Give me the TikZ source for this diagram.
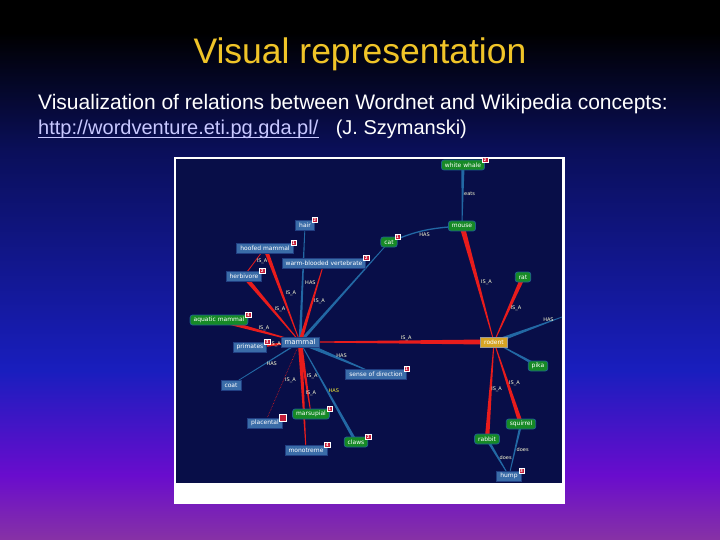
\documentclass[tikz,border=0pt]{standalone}
\usepackage{fontspec}
\setmainfont{Liberation Sans}
\newfontfamily\graphfont{DejaVu Sans}
\usepackage{xcolor}
\definecolor{slidenavy}{RGB}{10,15,90}
\definecolor{slideblue}{RGB}{25,30,190}
\definecolor{slidepurple}{RGB}{105,12,205}
\definecolor{slidebot}{RGB}{135,50,165}
\definecolor{titlegold}{RGB}{240,196,40}
\definecolor{linklav}{RGB}{200,200,255}
\definecolor{canvasnavy}{RGB}{8,14,72}
\definecolor{wnblue}{RGB}{58,108,168}
\definecolor{wnedge}{RGB}{32,62,130}
\definecolor{wikigreen}{RGB}{22,138,38}
\definecolor{wikiedge}{RGB}{30,96,140}
\definecolor{focusgold}{RGB}{214,164,36}
\definecolor{relred}{RGB}{232,28,28}
\definecolor{relblue}{RGB}{34,104,164}
\definecolor{badgered}{RGB}{196,28,56}
\definecolor{relcream}{RGB}{255,255,215}
\usepackage{tikz}
\usetikzlibrary{calc,backgrounds}
\pgfdeclareverticalshading{slidefade}{100bp}{color(0bp)=(slidebot); color(25bp)=(slidebot);
  color(31bp)=(slidepurple); color(40.7bp)=(slideblue); color(61bp)=(slidenavy);
  color(72bp)=(black); color(100bp)=(black)}
\tikzset{
  concept/.style={
    rectangle, inner xsep=3.5pt, inner ysep=1pt, minimum height=10pt,
    text=white, line width=0.8pt, font=\graphfont\fontsize{6}{6}\selectfont
  },
  wnbox/.style={concept, fill=wnblue, draw=wnedge},
  wikibox/.style={concept, fill=wikigreen, draw=wikiedge, rounded corners=2.5pt},
  focusbox/.style={concept, fill=focusgold, draw=gray!80},
  badge/.style={
    rectangle, fill=badgered, draw=white, line width=0.3pt,
    minimum size=5.5pt, inner sep=0pt, text=white,
    font=\graphfont\bfseries\fontsize{4}{4}\selectfont
  },
  rel/.style={text=relcream, inner sep=0.5pt, font=\graphfont\fontsize{5}{5}\selectfont},
  slidetext/.style={anchor=base west, inner sep=0pt, font=\fontsize{21}{25}\selectfont},
}
% wedge-shaped connector: colour, from, to, half width at the from end
\newcommand{\wedgelink}[4]{%
  \fill[#1] ($(#2)!#4!90:(#3)$) -- ($(#3)!0.35pt!-90:(#2)$)
    -- ($(#3)!0.35pt!90:(#2)$) -- ($(#2)!#4!-90:(#3)$) -- cycle;}

\begin{document}
\begin{tikzpicture}[x=1pt, y=-1pt]
  \useasboundingbox (0,0) rectangle (720,540);

  \begin{scope}[on background layer]
    \shade[shading=slidefade] (0,0) rectangle (720,540);
    \fill[white] (174,157) rectangle (565,504);
    \fill[canvasnavy] (176,159) rectangle (562,483);
  \end{scope}

  \node[font=\fontsize{35.5}{40}\selectfont, text=titlegold, anchor=base] (title) at (360,64) {Visual representation};
  \node[slidetext, text=white] (subtitle) at (38,110) {Visualization of relations between Wordnet and Wikipedia concepts:};
  \node[slidetext, text=linklav, font=\fontsize{20}{25}\selectfont] (link) at (38,135) {http://wordventure.eti.pg.gda.pl/};
  \draw[linklav, line width=0.9pt] ([yshift=-2.5pt]link.base west) -- ([yshift=-2.5pt]link.base east);
  \node[slidetext, text=white, font=\fontsize{20}{25}\selectfont] (author) at ([xshift=17pt]link.base east) {(J. Szymanski)};

  % concepts
  \node[wikibox] (whale) at (463,165) {white whale};
  \node[wikibox] (mouse) at (462,226) {mouse};
  \node[wikibox] (cat) at (389,242) {cat};
  \node[wnbox] (hair) at (305,225) {hair};
  \node[wnbox] (hoofed) at (265,248) {hoofed mammal};
  \node[wnbox] (warmblooded) at (324,263) {warm-blooded vertebrate};
  \node[wnbox] (herbivore) at (244,276) {herbivore};
  \node[wikibox] (aquatic) at (219,320) {aquatic mammal};
  \node[wnbox] (primates) at (250,347) {primates};
  \node[wnbox, font=\graphfont\fontsize{7}{7}\selectfont] (mammal) at (300,342) {mammal};
  \node[wnbox] (coat) at (231,385) {coat};
  \node[wnbox] (sense) at (376,374) {sense of direction};
  \node[wikibox] (marsupial) at (311,414) {marsupial};
  \node[wnbox] (placental) at (265,423) {placental};
  \node[wikibox] (claws) at (356,442) {claws};
  \node[wnbox] (monotreme) at (306,450) {monotreme};
  \node[focusbox] (rodent) at (494,342) {rodent};
  \node[wikibox] (rat) at (523,277) {rat};
  \node[wikibox] (pika) at (538,366) {pika};
  \node[wikibox] (squirrel) at (521,424) {squirrel};
  \node[wikibox] (rabbit) at (487,439) {rabbit};
  \node[wnbox] (hump) at (509,476) {hump};
  \coordinate (offright) at (562,317);

  \node[badge] (whalebadge) at (whale.north east) {2};
  \node[badge] (catbadge) at (cat.north east) {1};
  \node[badge] (hairbadge) at (hair.north east) {2};
  \node[badge] (hoofedbadge) at (hoofed.north east) {1};
  \node[badge] (warmbadge) at (warmblooded.north east) {2};
  \node[badge] (herbivorebadge) at (herbivore.north east) {2};
  \node[badge] (aquaticbadge) at (aquatic.north east) {4};
  \node[badge] (primatesbadge) at (primates.north east) {3};
  \node[badge] (sensebadge) at (sense.north east) {1};
  \node[badge] (marsupialbadge) at (marsupial.north east) {1};
  \node[badge, minimum size=6.5pt] (placentalbadge) at (placental.north east) {};
  \node[badge] (clawsbadge) at (claws.north east) {2};
  \node[badge] (monotremebadge) at (monotreme.north east) {4};
  \node[badge] (humpbadge) at (hump.north east) {3};

  \begin{scope}[on background layer]
    \wedgelink{relblue}{whale}{mouse}{1.6pt}
    \draw[relblue, line width=1.3pt] (cat) to[bend left=8] node[rel, pos=.55, below=1pt] {HAS} (mouse);
    \wedgelink{relblue}{mammal}{cat}{1.6pt}
    \wedgelink{relblue}{mammal}{hair}{1.4pt}
    \wedgelink{relred}{hoofed}{mammal}{2pt}
    \wedgelink{relred}{herbivore}{hoofed}{0.5pt}
    \wedgelink{relred}{herbivore}{mammal}{2.2pt}
    \wedgelink{relred}{mammal}{warmblooded}{1.8pt}
    \wedgelink{relred}{aquatic}{mammal}{2.2pt}
    \wedgelink{relred}{primates}{mammal}{2pt}
    \wedgelink{relred}{rodent}{mammal}{2.6pt}
    \wedgelink{relblue}{mammal}{sense}{2.2pt}
    \wedgelink{relblue}{mammal}{coat}{0.7pt}
    \wedgelink{relred}{mammal}{marsupial}{2pt}
    \draw[relred, densely dotted, line width=0.6pt] (mammal) -- (placental);
    \wedgelink{relred}{mammal}{monotreme}{2.2pt}
    \wedgelink{relblue}{claws}{mammal}{1.6pt}
    \wedgelink{relred}{mouse}{rodent}{2.6pt}
    \wedgelink{relred}{rat}{rodent}{2.2pt}
    \wedgelink{relblue}{rodent}{offright}{2pt}
    \wedgelink{relblue}{pika}{rodent}{1.5pt}
    \wedgelink{relred}{squirrel}{rodent}{2.2pt}
    \wedgelink{relred}{rabbit}{rodent}{2.2pt}
    \wedgelink{relblue}{rabbit}{hump}{1.5pt}
    \wedgelink{relblue}{squirrel}{hump}{1.2pt}

    \path (whale) -- node[rel, pos=.46, right=1pt] {eats} (mouse);
    \path (hair) -- node[rel, pos=.49, right=2pt] {HAS} (mammal);
    \path (hoofed) -- node[rel, pos=.48, right=3pt] {IS\_A} (mammal);
    \path (herbivore) -- node[rel, pos=.55, right=1pt] {IS\_A} (hoofed);
    \path (herbivore) -- node[rel, pos=.5, right=2pt] {IS\_A} (mammal);
    \path (mammal) -- node[rel, pos=.52, right=1pt] {IS\_A} (warmblooded);
    \path (aquatic) -- node[rel, pos=.6, above=1pt] {IS\_A} (mammal);
    \path (primates) -- node[rel, pos=.62] {IS\_A} (mammal);
    \path (rodent) -- node[rel, pos=.46, above=1pt] {IS\_A} (mammal);
    \path (mammal) -- node[rel, pos=.57, above=1pt] {HAS} (sense);
    \path (mammal) -- node[rel, pos=.38, below=1pt] {HAS} (coat);
    \path (mammal) -- node[rel, pos=.47, right=1pt] {IS\_A} (marsupial);
    \path (mammal) -- node[rel, pos=.47, right=1pt] {IS\_A} (placental);
    \path (mammal) -- node[rel, pos=.47, right=2pt] {IS\_A} (monotreme);
    \path (mammal) -- node[rel, pos=.48, right=1pt, text=yellow!80] {HAS} (claws);
    \path (mouse) -- node[rel, pos=.48, right=3pt] {IS\_A} (rodent);
    \path (rat) -- node[rel, pos=.48, right=1pt] {IS\_A} (rodent);
    \path (rodent) -- node[rel, pos=.75, above=0pt] {HAS} (offright);
    \path (squirrel) -- node[rel, pos=.5, right=1pt] {IS\_A} (rodent);
    \path (rabbit) -- node[rel, pos=.52, right=0pt] {IS\_A} (rodent);
    \path (rabbit) -- node[rel, pos=.5, right=1pt] {does} (hump);
    \path (squirrel) -- node[rel, pos=.5, right=1pt] {does} (hump);
  \end{scope}
\end{tikzpicture}
\end{document}
